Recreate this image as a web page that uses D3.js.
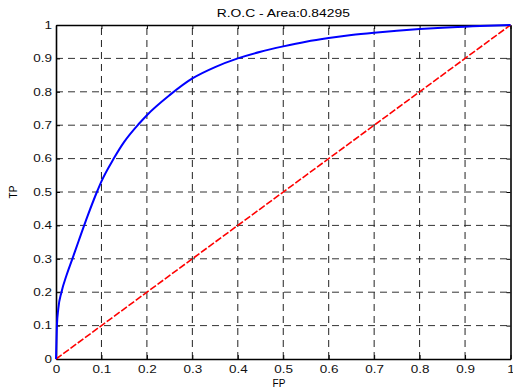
<!DOCTYPE html>
<html>
<head>
<meta charset="utf-8">
<script src="https://cdn.jsdelivr.net/npm/d3@7"></script>
<style>
  body { margin: 0; background: #fff; }
  text { font-family: "Liberation Sans", Arial, sans-serif; }
</style>
</head>
<body>
<div id="chart"></div>
<script>
// ROC curve values
const fpr = [0, 0.002, 0.005, 0.012, 0.023, 0.036, 0.05, 0.07, 0.09, 0.1, 0.127, 0.15, 0.183, 0.2, 0.25, 0.3, 0.35, 0.4, 0.45, 0.5, 0.55, 0.6, 0.65, 0.7, 0.75, 0.8, 0.85, 0.9, 0.95, 1]
const tpr = [0, 0.1, 0.15, 0.2, 0.25, 0.3, 0.354, 0.43, 0.5, 0.532, 0.6, 0.65, 0.705, 0.73, 0.79, 0.84, 0.874, 0.9, 0.92, 0.936, 0.95, 0.961, 0.97, 0.977, 0.983, 0.988, 0.992, 0.995, 0.998, 1]
const chance = [0, 1]
const ticks = [0, 0.1, 0.2, 0.3, 0.4, 0.5, 0.6, 0.7, 0.8, 0.9, 1]
const title = "R.O.C - Area:0.84295"

const width = 513
const height = 390
const margin = {top: 25, right: 2, bottom: 31, left: 56}

const svg = d3.select("#chart")
    .append("svg")
    .attr("width", width)
    .attr("height", height)

const x = d3.scaleLinear().domain([0, 1]).range([margin.left, width - margin.right - 0.5])
const y = d3.scaleLinear().domain([0, 1]).range([height - margin.bottom, margin.top])

const fmt = d => d === 0 || d === 1 ? String(d) : d.toFixed(1)

// dashed grid
svg.append("g").selectAll("line")
    .data(ticks.slice(1, -1))
    .join("line")
    .attr("x1", d => x(d)).attr("x2", d => x(d))
    .attr("y1", y(0)).attr("y2", y(1))
    .attr("stroke", "#222").attr("stroke-dasharray", "7,5")
svg.append("g").selectAll("line")
    .data(ticks.slice(1, -1))
    .join("line")
    .attr("y1", d => y(d)).attr("y2", d => y(d))
    .attr("x1", x(0)).attr("x2", x(1))
    .attr("stroke", "#333").attr("stroke-dasharray", "7,5")

// axes, ticks inward like matlab
const axBottom = svg.append("g").attr("transform", `translate(0,${y(0)})`)
    .call(d3.axisBottom(x).tickValues(ticks).tickFormat(fmt).tickSizeInner(-4).tickSizeOuter(0).tickPadding(7))
const axLeft = svg.append("g").attr("transform", `translate(${x(0)},0)`)
    .call(d3.axisLeft(y).tickValues(ticks).tickFormat(fmt).tickSizeInner(-4).tickSizeOuter(0).tickPadding(3))
const axTop = svg.append("g").attr("transform", `translate(0,${y(1)})`)
    .call(d3.axisTop(x).tickValues(ticks).tickFormat("").tickSizeInner(-4).tickSizeOuter(0))
const axRight = svg.append("g").attr("transform", `translate(${x(1)},0)`)
    .call(d3.axisRight(y).tickValues(ticks).tickFormat("").tickSizeInner(-4).tickSizeOuter(0))

;[axBottom, axLeft, axTop, axRight].forEach(g => {
    g.select(".domain").attr("stroke", "#000").attr("stroke-width", 1.6)
    g.selectAll(".tick line").attr("stroke", "#000")
    // the picture's labels are wide and short, stretch them sideways
    g.selectAll(".tick text").attr("fill", "#111").style("font-size", "10px")
        .attr("transform", "scale(1.35,1)")
})

// chance line
svg.append("path")
    .datum(chance)
    .attr("d", d3.line().x(d => x(d)).y(d => y(d)))
    .attr("fill", "none")
    .attr("stroke", "#ff0000")
    .attr("stroke-width", 1.6)
    .attr("stroke-dasharray", "7,2")

// roc curve
svg.append("path")
    .datum(d3.zip(fpr, tpr))
    .attr("d", d3.line().x(d => x(d[0])).y(d => y(d[1])).curve(d3.curveMonotoneX))
    .attr("fill", "none")
    .attr("stroke", "#0000ff")
    .attr("stroke-width", 2)

svg.append("text")
    .attr("transform", `translate(${(x(0) + x(1)) / 2},17) scale(1.26,1)`)
    .attr("text-anchor", "middle")
    .style("font-size", "11px")
    .text(title)

svg.append("text")
    .attr("x", 279).attr("y", 387)
    .attr("text-anchor", "middle")
    .style("font-size", "10px")
    .text("FP")

svg.append("text")
    .attr("transform", `translate(17,${(y(0) + y(1)) / 2}) rotate(-90)`)
    .attr("text-anchor", "middle")
    .style("font-size", "10px")
    .text("TP")
</script>
</body>
</html>
